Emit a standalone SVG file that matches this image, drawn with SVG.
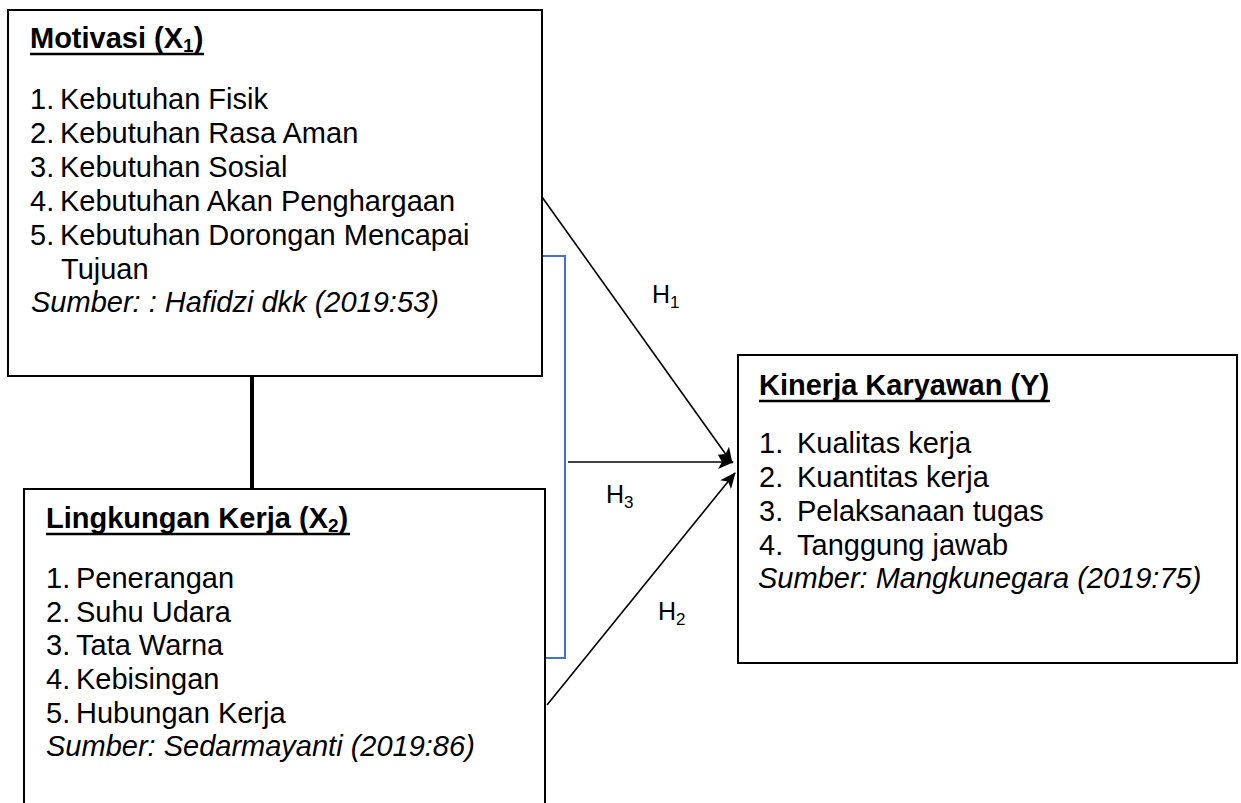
<svg xmlns="http://www.w3.org/2000/svg" width="1241" height="803" viewBox="0 0 1241 803">
<defs>
<marker id="ah" viewBox="0 0 16 14" refX="15" refY="7" markerWidth="16" markerHeight="14" markerUnits="userSpaceOnUse" orient="auto">
<path d="M0,0 L16,7 L0,14 L4,7 Z" fill="#000"/>
</marker>
</defs>
<style>
.box{fill:#fff;stroke:#000;stroke-width:2}
.t{font-family:"Liberation Sans",Arial,sans-serif;font-size:29px;fill:#000}
.h{font-weight:bold}
.ul{stroke:#000;stroke-width:2.5}
.i{font-style:italic}
.sub{font-size:19px}
.lbl{font-family:"Liberation Sans",Arial,sans-serif;font-size:25px;fill:#000}
.lsub{font-size:17px}
.c{stroke:#000;stroke-width:1.6;fill:none}
</style>
<rect width="1241" height="803" fill="#fff"/>
<g id="connectors">
<line x1="252" y1="376" x2="252" y2="490" stroke="#000" stroke-width="4"/>
<path d="M542,256 H565 V658 H542" fill="none" stroke="#4472C4" stroke-width="2"/>
<line class="c" x1="542" y1="197" x2="732" y2="463" marker-end="url(#ah)"/>
<line class="c" x1="568" y1="462" x2="733" y2="462" marker-end="url(#ah)"/>
<line class="c" x1="547" y1="705" x2="735" y2="473" marker-end="url(#ah)"/>
<text class="lbl" x="652" y="303">H<tspan class="lsub" dy="5">1</tspan></text>
<text class="lbl" x="606" y="503">H<tspan class="lsub" dy="5">3</tspan></text>
<text class="lbl" x="658" y="620">H<tspan class="lsub" dy="5">2</tspan></text>
</g>
<g id="motivasi">
<rect class="box" x="8" y="10" width="534" height="366"/>
<text class="t h" x="30" y="48">Motivasi (X<tspan class="sub" dy="4">1</tspan><tspan dy="-4">)</tspan></text>
<line class="ul" x1="30" y1="54" x2="204" y2="54"/>
<text class="t" x="30" y="109">1.</text><text class="t" x="60" y="109">Kebutuhan Fisik</text>
<text class="t" x="30" y="143">2.</text><text class="t" x="60" y="143">Kebutuhan Rasa Aman</text>
<text class="t" x="30" y="177">3.</text><text class="t" x="60" y="177">Kebutuhan Sosial</text>
<text class="t" x="30" y="211">4.</text><text class="t" x="60" y="211">Kebutuhan Akan Penghargaan</text>
<text class="t" x="30" y="245">5.</text><text class="t" x="60" y="245">Kebutuhan Dorongan Mencapai</text>
<text class="t" x="61" y="279">Tujuan</text>
<text class="t i" x="31" y="312">Sumber: : Hafidzi dkk (2019:53)</text>
</g>
<g id="lingkungan">
<rect class="box" x="24" y="489" width="521" height="340"/>
<text class="t h" x="46" y="528">Lingkungan Kerja (X<tspan class="sub" dy="4">2</tspan><tspan dy="-4">)</tspan></text>
<line class="ul" x1="46" y1="534" x2="350" y2="534"/>
<text class="t" x="46" y="588">1.</text><text class="t" x="76" y="588">Penerangan</text>
<text class="t" x="46" y="622">2.</text><text class="t" x="76" y="622">Suhu Udara</text>
<text class="t" x="46" y="655">3.</text><text class="t" x="76" y="655">Tata Warna</text>
<text class="t" x="46" y="689">4.</text><text class="t" x="76" y="689">Kebisingan</text>
<text class="t" x="46" y="723">5.</text><text class="t" x="76" y="723">Hubungan Kerja</text>
<text class="t i" x="46" y="756">Sumber: Sedarmayanti (2019:86)</text>
</g>
<g id="kinerja">
<rect class="box" x="738" y="355" width="499" height="308"/>
<text class="t h" x="759" y="395">Kinerja Karyawan (Y)</text>
<line class="ul" x1="759" y1="401" x2="1050" y2="401"/>
<text class="t" x="759" y="453">1.</text><text class="t" x="797" y="453">Kualitas kerja</text>
<text class="t" x="759" y="487">2.</text><text class="t" x="797" y="487">Kuantitas kerja</text>
<text class="t" x="759" y="521">3.</text><text class="t" x="797" y="521">Pelaksanaan tugas</text>
<text class="t" x="759" y="555">4.</text><text class="t" x="797" y="555">Tanggung jawab</text>
<text class="t i" x="758" y="588">Sumber: Mangkunegara (2019:75)</text>
</g>
</svg>
